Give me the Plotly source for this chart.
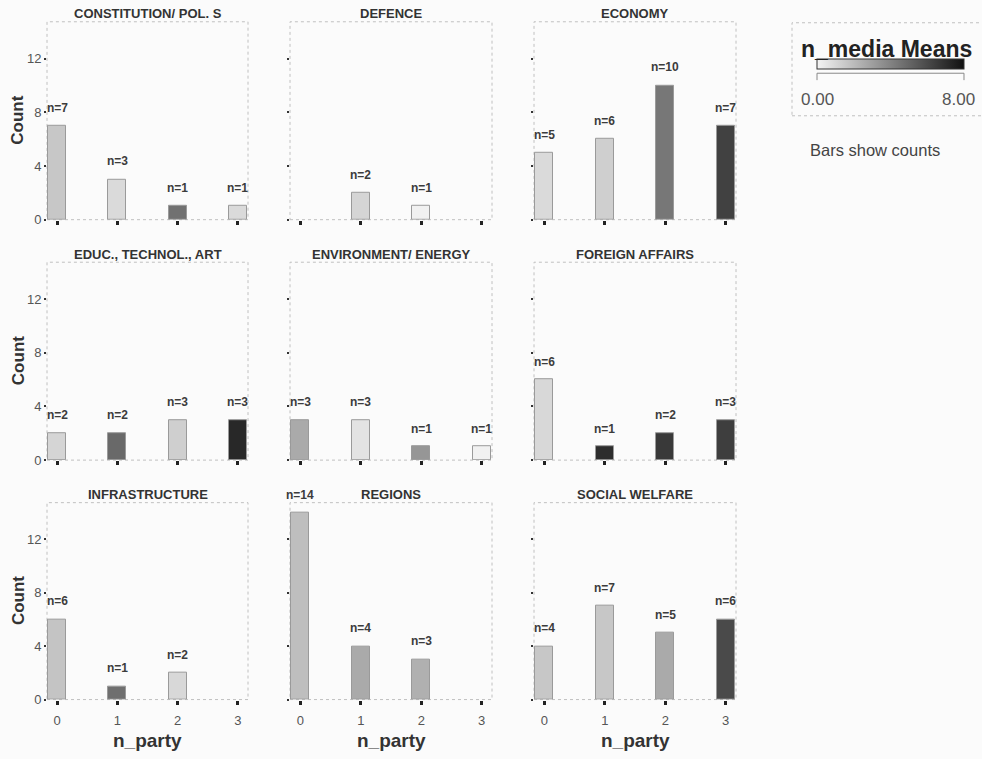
import plotly.graph_objects as go

# ---------------- data ----------------
topics = ["CONSTITUTION/ POL. S", "DEFENCE", "ECONOMY",
          "EDUC., TECHNOL., ART", "ENVIRONMENT/ ENERGY", "FOREIGN AFFAIRS",
          "INFRASTRUCTURE", "REGIONS", "SOCIAL WELFARE"]
n_party = [0, 1, 2, 3]

counts_constitution = [7, 3, 1, 1]
counts_defence = [0, 2, 1, 0]
counts_economy = [5, 6, 10, 7]
counts_educ = [2, 2, 3, 3]
counts_environment = [3, 3, 1, 1]
counts_foreign = [6, 1, 2, 3]
counts_infrastructure = [6, 1, 2, 0]
counts_regions = [14, 4, 3, 0]
counts_social = [4, 7, 5, 6]

# n_media means (estimated from bar shading, scale 0..8)
means_constitution = [1.6, 0.9, 4.6, 0.9]
means_defence = [None, 1.1, 0.1, None]
means_economy = [0.9, 1.3, 4.4, 6.3]
means_educ = [1.1, 4.9, 1.3, 7.2]
means_environment = [2.6, 0.6, 3.3, 0.1]
means_foreign = [1.0, 7.0, 6.6, 6.4]
means_infrastructure = [1.7, 4.7, 1.0, None]
means_regions = [1.9, 2.6, 2.4, None]
means_social = [1.6, 1.6, 2.6, 6.0]

y_ticks = [0, 4, 8, 12]
color_min, color_max = 0.0, 8.0

counts = [counts_constitution, counts_defence, counts_economy, counts_educ,
          counts_environment, counts_foreign, counts_infrastructure,
          counts_regions, counts_social]
means = [means_constitution, means_defence, means_economy, means_educ,
         means_environment, means_foreign, means_infrastructure,
         means_regions, means_social]

# ---------------- layout geometry ----------------
W, H = 982, 759
col_px = [(47, 248), (290, 492), (534, 736)]
row_px = [(22, 222), (265, 465), (508, 707)]
FONT = "Liberation Sans, Arial, sans-serif"

def px(x):
    return x / W

def py(y):
    return 1 - y / H

fig = go.Figure()
annotations = []
shapes = []

for i, topic in enumerate(topics):
    r, c = divmod(i, 3)
    sfx = "" if i == 0 else str(i + 1)
    xa, ya = "x" + sfx, "y" + sfx
    xs = [p for p, n in zip(n_party, counts[i]) if n > 0]
    ys = [n for n in counts[i] if n > 0]
    ms = [m for m, n in zip(means[i], counts[i]) if n > 0]
    fig.add_trace(go.Bar(
        x=xs, y=ys, width=0.3, xaxis=xa, yaxis=ya, showlegend=False,
        marker=dict(color=ms, coloraxis="coloraxis",
                    line=dict(color="#9a9a9a", width=1)),
        hovertemplate="n_party=%{x}<br>Count=%{y}<extra></extra>"))
    x0, x1 = col_px[c]
    y0, y1 = row_px[r]
    fig.layout["xaxis" + sfx] = dict(
        domain=[px(x0), px(x1)], anchor=ya, range=[-0.17, 3.17],
        tickvals=n_party, ticktext=[str(v) for v in n_party],
        showticklabels=(r == 2), ticks="outside", ticklen=4, tickwidth=3,
        tickcolor="#222", showgrid=False, zeroline=False, showline=False,
        ticklabelstandoff=5,
        tickfont=dict(family=FONT, size=13, color="#555"), fixedrange=True)
    fig.layout["yaxis" + sfx] = dict(
        domain=[py(y1), py(y0)], anchor=xa, range=[0, 14.75],
        tickvals=y_ticks, showticklabels=(c == 0), ticks="outside",
        ticklen=2, tickwidth=2, tickcolor="#333", showgrid=False,
        zeroline=False, showline=False,
        tickfont=dict(family=FONT, size=13, color="#555"), fixedrange=True)
    # dotted frame
    shapes.append(dict(type="rect", xref=xa + " domain", yref=ya + " domain",
                       x0=0, x1=1, y0=0, y1=1,
                       line=dict(color="#c0c0c0", width=1, dash="dot"),
                       layer="below"))
    # panel title
    annotations.append(dict(text="<b>%s</b>" % topic, xref="paper", yref="paper",
                            x=px((x0 + x1) / 2), y=py(y0 - 8), showarrow=False,
                            xanchor="center", yanchor="middle",
                            font=dict(family=FONT, size=13, color="#333")))
    # n= labels
    for xv, yv in zip(xs, ys):
        annotations.append(dict(text="<b>n=%d</b>" % yv, xref=xa, yref=ya,
                                x=xv, y=yv, yshift=18, showarrow=False,
                                xanchor="center", yanchor="middle",
                                font=dict(family=FONT, size=12, color="#3c3c3c")))
    if c == 0:
        annotations.append(dict(text="<b>Count</b>", xref="paper", yref="paper",
                                x=px(18), y=py((y0 + y1) / 2), textangle=-90,
                                showarrow=False, xanchor="center", yanchor="middle",
                                font=dict(family=FONT, size=17, color="#333")))
    if r == 2:
        annotations.append(dict(text="<b>n_party</b>", xref="paper", yref="paper",
                                x=px((x0 + x1) / 2), y=py(748), showarrow=False,
                                xanchor="center", yanchor="middle",
                                font=dict(family=FONT, size=19, color="#333")))

# ---------------- legend box ----------------
shapes.append(dict(type="rect", xref="paper", yref="paper",
                   x0=px(792), x1=px(995), y0=py(117), y1=py(23),
                   line=dict(color="#c0c0c0", width=1, dash="dot")))
# bracket under the color bar
shapes.append(dict(type="path", xref="paper", yref="paper",
                   path="M %f %f L %f %f L %f %f L %f %f" % (
                       px(817), py(81), px(817), py(74),
                       px(964), py(74), px(964), py(81)),
                   line=dict(color="#888", width=1)))
annotations.append(dict(text="<b>n_media Means</b>", xref="paper", yref="paper",
                        x=px(799), y=py(50), showarrow=False, xanchor="left",
                        yanchor="middle",
                        font=dict(family=FONT, size=23, color="#222")))
annotations.append(dict(text="%.2f" % color_min, xref="paper", yref="paper",
                        x=px(817), y=py(101), showarrow=False, xanchor="center",
                        yanchor="middle", font=dict(family=FONT, size=17, color="#555")))
annotations.append(dict(text="%.2f" % color_max, xref="paper", yref="paper",
                        x=px(958), y=py(101), showarrow=False, xanchor="center",
                        yanchor="middle", font=dict(family=FONT, size=17, color="#555")))
annotations.append(dict(text="Bars show counts", xref="paper", yref="paper",
                        x=px(808), y=py(152), showarrow=False, xanchor="left",
                        yanchor="middle", font=dict(family=FONT, size=16.5, color="#444")))

fig.update_layout(
    width=W, height=H, margin=dict(l=0, r=0, t=0, b=0),
    paper_bgcolor="#fbfbfb", plot_bgcolor="#fbfbfb",
    annotations=annotations, shapes=shapes, bargap=0,
    coloraxis=dict(
        cmin=color_min, cmax=color_max,
        colorscale=[[0, "#f4f4f4"], [1, "#111111"]],
        colorbar=dict(orientation="h", x=px(817), xanchor="left",
                      y=py(60), yanchor="top", len=147, lenmode="pixels",
                      thickness=10, thicknessmode="pixels", xpad=0, ypad=0,
                      outlinewidth=1, outlinecolor="#333",
                      showticklabels=False, ticks="")),
    font=dict(family=FONT),
)

fig.write_html("out.html", config={"displayModeBar": False},
               post_script="document.body.style.margin='0';"
                           "document.body.style.overflow='hidden';")
